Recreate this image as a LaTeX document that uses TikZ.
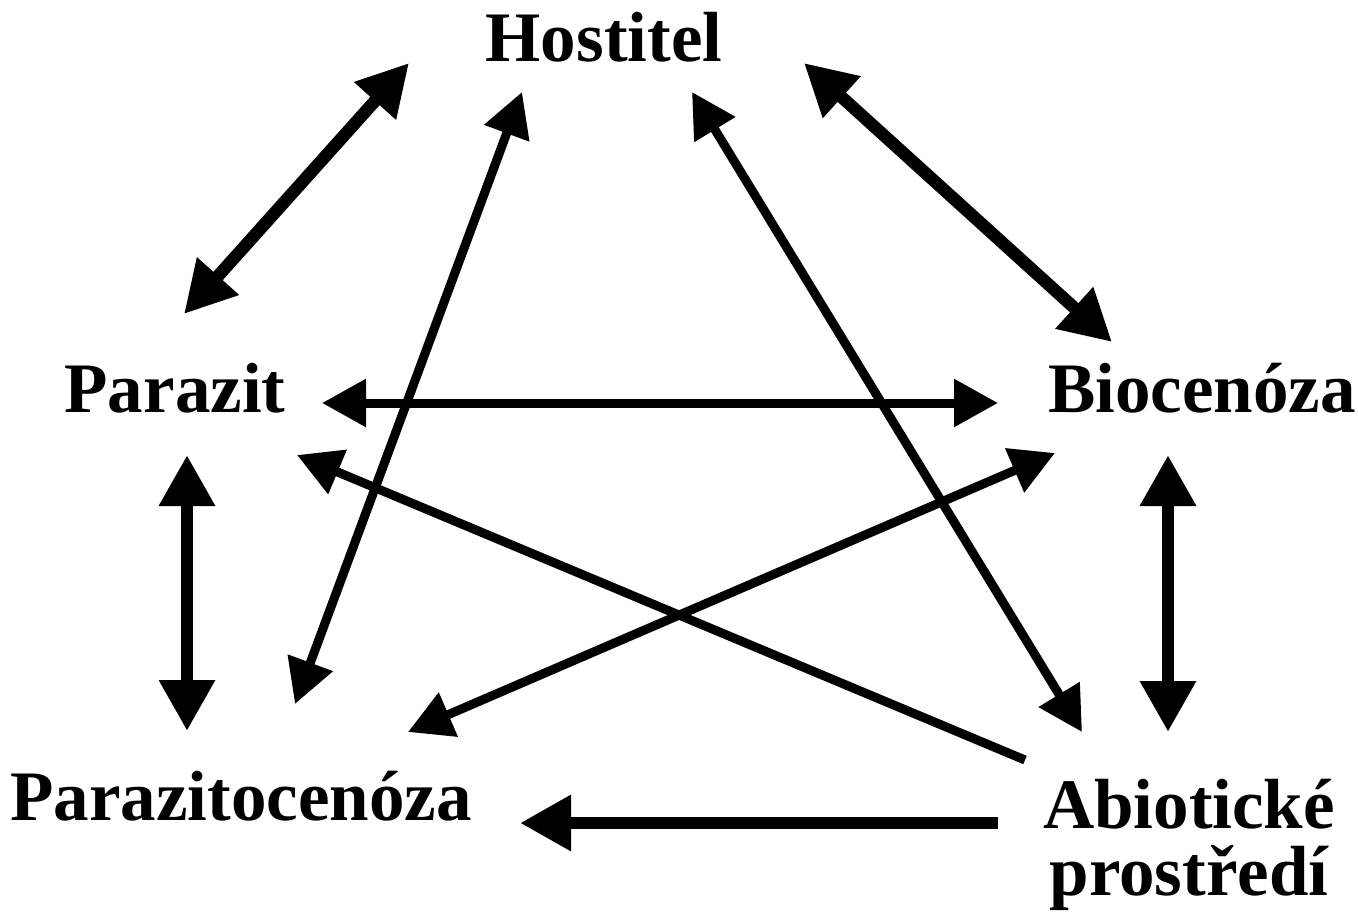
\documentclass[tikz,border=0pt]{standalone}
\usepackage{fontspec}
\setmainfont{Liberation Serif}
\usetikzlibrary{arrows.meta, positioning, calc}

\tikzset{
  bigtip/.tip={Triangle[length=51pt, width=53pt]},
  smalltip/.tip={Triangle[length=44pt, width=46pt]}
}

\begin{document}
\begin{tikzpicture}[
  x=1pt, y=-1pt,
  font=\bfseries\fontsize{71}{67}\selectfont,
  term/.style={inner sep=0pt, anchor=base, align=center},
  heavyline/.style={line width=12.5pt},
  lightline/.style={line width=9pt}
]
\useasboundingbox (0,0) rectangle (1358,917);

% terms
\node[term] (host) at (604,62) {Hostitel};
\node[term] (par) at (175,413) {Parazit};
\node[term] (bio) at (1202,413) {Biocenóza};
\node[term] (parc) at (241,820) {Parazitocenóza};
\node[term] (abio) at (1189,895) {Abiotické\\prostředí};

% heavy links
\draw[heavyline, bigtip-bigtip] ([shift={(9,-99)}]par.base) -- ([shift={(-195,1)}]host.base);
\draw[heavyline, bigtip-bigtip] ([shift={(200,1)}]host.base) -- ([shift={(-90,-71)}]bio.base);
\draw[heavyline, bigtip-bigtip] ([shift={(12,42)}]par.base) -- ([shift={(-54,-89)}]parc.base);
\draw[heavyline, bigtip-bigtip] ([shift={(-34,42)}]bio.base) -- ([shift={(-21,-163)}]abio.base);
\draw[heavyline, -bigtip] ([shift={(-191,-72)}]abio.base) -- ([shift={(279,3)}]parc.base);

% light links
\draw[lightline, smalltip-smalltip] ([shift={(147,-10)}]par.base) -- ([shift={(-204,-10)}]bio.base);
\draw[lightline, smalltip-smalltip] ([shift={(-82,30)}]host.base) -- ([shift={(54,-116)}]parc.base);
\draw[lightline, smalltip-smalltip] ([shift={(88,30)}]host.base) -- ([shift={(-107,-163)}]abio.base);
\draw[lightline, smalltip-smalltip] ([shift={(-147,40)}]bio.base) -- ([shift={(167,-88)}]parc.base);
\draw[lightline, -smalltip] ([shift={(-164,-135)}]abio.base) -- ([shift={(122,42)}]par.base);

\end{tikzpicture}
\end{document}
